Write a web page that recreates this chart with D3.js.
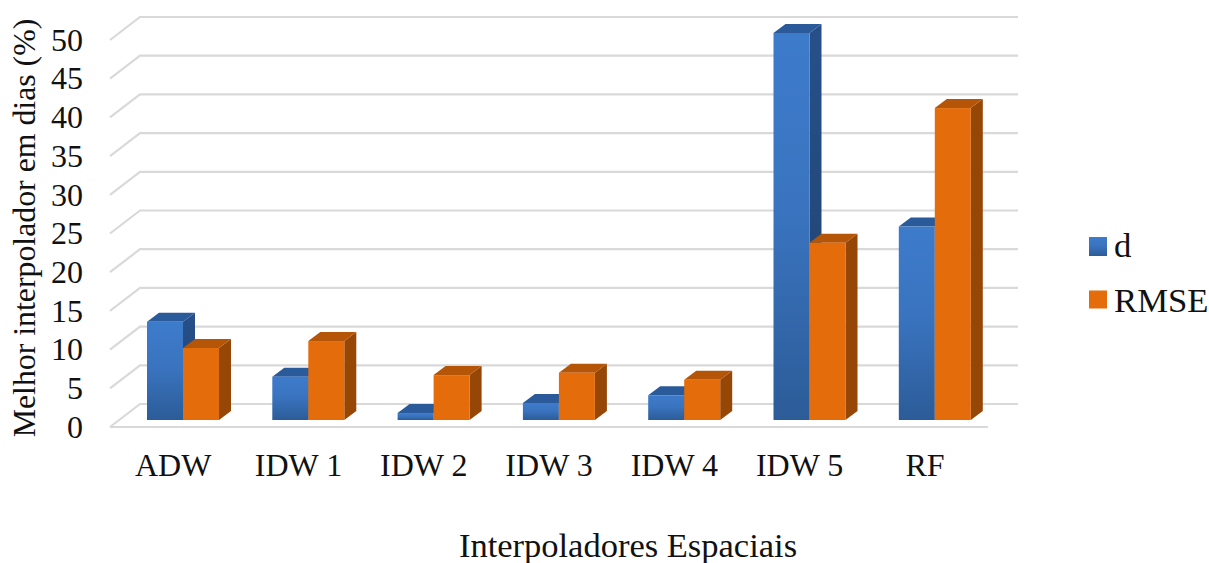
<!DOCTYPE html>
<html><head><meta charset="utf-8">
<script src="https://cdn.jsdelivr.net/npm/d3@7"></script>
<style>html,body{margin:0;padding:0;background:#fff;overflow:hidden}svg{display:block}text{font-family:"Liberation Serif",serif;fill:#111}</style>
</head><body><svg id="c" width="1209" height="563"></svg>
<script>
const categories=["ADW","IDW 1","IDW 2","IDW 3","IDW 4","IDW 5","RF"];
const dValues=[12.7,5.6,0.9,2.2,3.2,50,25];
const rmseValues=[9.3,10.2,5.8,6.1,5.2,22.9,40.3];
const seriesNames=["d","RMSE"];
const yTicks=[0,5,10,15,20,25,30,35,40,45,50];
const yTitle="Melhor interpolador em dias (%)";
const xTitle="Interpoladores Espaciais";

const svg=d3.select("#c");
const defs=svg.append("defs");
const grad=defs.append("linearGradient").attr("id","blue").attr("x1",0).attr("y1",0).attr("x2",0).attr("y2",1);
grad.append("stop").attr("offset","0%").attr("stop-color","#3d7bcb");
grad.append("stop").attr("offset","45%").attr("stop-color","#3a74c0");
grad.append("stop").attr("offset","100%").attr("stop-color","#2c5c98");
const gradS=defs.append("linearGradient").attr("id","blueSide").attr("x1",0).attr("y1",0).attr("x2",0).attr("y2",1);
gradS.append("stop").attr("offset","0%").attr("stop-color","#27508a");
gradS.append("stop").attr("offset","100%").attr("stop-color","#1f426f");

// geometry
const y=d3.scaleLinear().domain([0,50]).range([420,33]);
const x=d3.scaleBand().domain(categories).range([112,112+125.3*7]);
const barW=36, bdx=12, bdy=9;     // bar depth
const wallDy=23;                  // wall depth
const frontLeft=110, backLeft=140, backRight=1018, frontRight=988;
const backY=v=>y(v)-16;           // back wall value line
const frontY=v=>backY(v)+wallDy;

// gridlines
const grid=svg.append("g").attr("fill","none").attr("stroke","#d9d9d9").attr("stroke-width",2.2);
yTicks.forEach(t=>{
  grid.append("path").attr("d",`M${frontLeft},${frontY(t)}L${backLeft},${backY(t)}L${backRight},${backY(t)}`);
});
grid.append("line").attr("x1",frontLeft).attr("x2",frontRight).attr("y1",frontY(0)).attr("y2",frontY(0));

// bars
const palette=[
 {front:"url(#blue)",top:"#2a5a9a",side:"url(#blueSide)"},
 {front:"#e46c0a",top:"#b55508",side:"#964705"}];
function bar(g,x0,v,c){
  const t=y(v),b=y(0),x1=x0+barW;
  g.append("path").attr("d",`M${x1},${t}L${x1+bdx},${t-bdy}L${x1+bdx},${b-bdy}L${x1},${b}Z`).attr("fill",c.side);
  g.append("path").attr("d",`M${x0},${t}L${x0+bdx},${t-bdy}L${x1+bdx},${t-bdy}L${x1},${t}Z`).attr("fill",c.top);
  g.append("rect").attr("x",x0).attr("y",t).attr("width",barW).attr("height",b-t).attr("fill",c.front);
}
const bars=svg.append("g");
categories.forEach((cat,i)=>{
  const x0=x(cat)+x.bandwidth()/2-barW+8.35;
  const g=bars.append("g");
  bar(g,x0,dValues[i],palette[0]);
  bar(g,x0+barW,rmseValues[i],palette[1]);
});

// y axis labels
const axisY=svg.append("g").attr("transform","translate(97,0)")
  .call(d3.axisLeft(d3.scaleLinear().domain([0,50]).range([frontY(0),frontY(50)])).tickValues(yTicks).tickSize(0).tickPadding(14));
axisY.select(".domain").remove();
axisY.selectAll("text").attr("style",'font-family:"Liberation Serif",serif;fill:#111;font-size:32px').attr("dy","0.32em");

// x axis labels
const axisX=svg.append("g").attr("transform","translate(-1.5,466)")
  .call(d3.axisBottom(x).tickSize(0).tickPadding(0));
axisX.select(".domain").remove();
axisX.selectAll("text").attr("style",'font-family:"Liberation Serif",serif;fill:#111;font-size:32px').attr("dy","0.3em").attr("y",0);

// titles
svg.append("text").attr("transform","translate(35,228) rotate(-90)").attr("text-anchor","middle").attr("font-size",31.8).text(yTitle);
svg.append("text").attr("x",628).attr("y",557).attr("text-anchor","middle").attr("font-size",34.5).text(xTitle);

// legend
const legY=[246.5,300];
const legBase=[257,312];
seriesNames.forEach((n,i)=>{
  svg.append("rect").attr("x",1089).attr("y",legY[i]-9.5).attr("width",18).attr("height",i?18:19).attr("fill",palette[i].front);
  svg.append("text").attr("x",1114).attr("y",legBase[i]).attr("font-size",34.7).text(n);
});
</script></body></html>
